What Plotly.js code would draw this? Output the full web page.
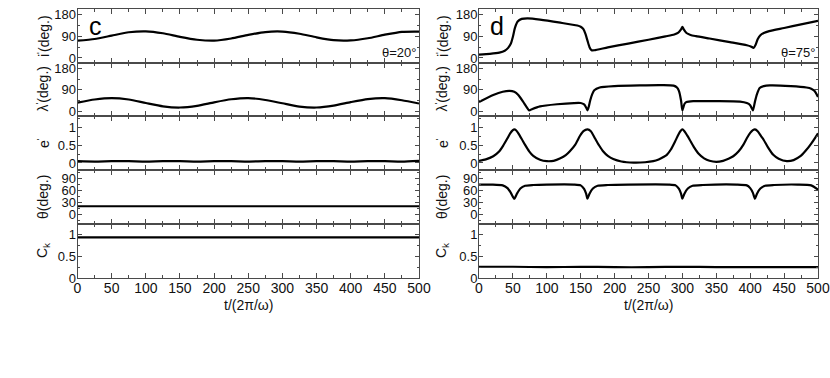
<!DOCTYPE html>
<html>
<head>
<meta charset="utf-8">
<script src="https://cdn.plot.ly/plotly-3.0.1.min.js"></script>
<style>
  html, body { margin: 0; padding: 0; background: #fff; }
  #chart { width: 830px; height: 378px; }
</style>
</head>
<body>
<div id="chart"></div>
<script>
// ---- data ----
const tEvery25 = [0, 25, 50, 75, 100, 125, 150, 175, 200, 225, 250, 275, 300, 325, 350, 375, 400, 425, 450, 475, 500];
const tEvery50 = [0, 50, 100, 150, 200, 250, 300, 350, 400, 450, 500];

// panel c (theta = 20 deg)
const cIncl = [72, 79, 93, 107, 111, 103, 88, 76, 72, 81, 96, 108, 110, 101, 86, 74, 73, 82, 97, 109, 110];
const cNode = [36, 49, 55, 49, 34, 20, 15, 22, 37, 50, 55, 47, 33, 19, 15, 23, 38, 51, 55, 46, 32];
const cEcc = [0.05, 0.04, 0.05, 0.05, 0.04, 0.05, 0.05, 0.04, 0.05, 0.05, 0.04, 0.05, 0.05, 0.04, 0.05, 0.05, 0.04, 0.05, 0.05, 0.04, 0.06];
const cTheta = [20, 20, 20, 20, 20, 20, 20, 20, 20, 20, 20];
const cCk = [0.94, 0.94, 0.94, 0.94, 0.94, 0.94, 0.94, 0.94, 0.94, 0.94, 0.94];

// panel d (theta = 75 deg)
const dInclT = [0, 16, 30, 38, 43, 47, 50, 53, 57, 63, 72, 90, 120, 145, 150, 154, 157, 160, 163, 166, 170, 190, 220, 250, 275, 288, 294, 298, 300, 302, 306, 312, 320, 340, 370, 395, 401, 405, 408, 411, 415, 420, 428, 450, 475, 500];
const dIncl = [14, 17, 22, 30, 42, 60, 88, 125, 152, 163, 165, 160, 147, 135, 130, 120, 100, 72, 45, 32, 32, 44, 60, 76, 90, 98, 106, 119, 130, 119, 104, 96, 91, 81, 66, 53, 48, 42, 55, 78, 95, 104, 112, 125, 140, 155];

const dNodeT = [0, 21, 35, 45, 52, 58, 65, 70, 74, 78, 90, 115, 140, 150, 155, 158, 160, 162, 164, 167, 170, 178, 200, 237, 270, 287, 292, 295, 298, 300, 303, 306, 316, 350, 385, 395, 400, 404, 407, 410, 414, 420, 429, 460, 483, 490, 495, 500];
const dNode = [38, 68, 82, 86, 82, 68, 40, 18, 3, 8, 20, 29, 34, 34, 28, 15, 3, 20, 45, 72, 88, 100, 106, 109, 110, 108, 100, 85, 45, 3, 30, 38, 42, 42, 40, 34, 25, 3, 40, 72, 98, 106, 109, 106, 100, 95, 85, 60];

const dEccT = [0, 10, 21, 30, 36, 42, 46, 50, 52, 55, 58, 63, 68, 74, 80, 90, 100, 110, 120, 128, 134, 142, 149, 154, 160, 165, 171, 177, 183, 190, 198, 210, 228, 245, 257, 265, 272, 277, 283, 289, 294, 297, 300, 303, 307, 311, 317, 324, 332, 340, 350, 360, 368, 375, 383, 390, 395, 400, 404, 407, 411, 416, 420, 426, 434, 442, 454, 464, 474, 482, 490, 496, 500];
const dEcc = [0.06, 0.1, 0.19, 0.33, 0.5, 0.7, 0.84, 0.93, 0.95, 0.92, 0.84, 0.68, 0.51, 0.33, 0.2, 0.09, 0.05, 0.06, 0.13, 0.22, 0.33, 0.52, 0.77, 0.9, 0.95, 0.9, 0.7, 0.5, 0.33, 0.2, 0.11, 0.04, 0.01, 0.02, 0.05, 0.1, 0.17, 0.23, 0.38, 0.6, 0.8, 0.9, 0.95, 0.9, 0.78, 0.65, 0.45, 0.26, 0.13, 0.06, 0.03, 0.06, 0.12, 0.19, 0.33, 0.52, 0.7, 0.85, 0.93, 0.95, 0.9, 0.76, 0.65, 0.45, 0.23, 0.12, 0.05, 0.08, 0.19, 0.35, 0.55, 0.72, 0.84];

const dThetaT = [0, 20, 35, 42, 47, 52, 56, 61, 68, 80, 100, 140, 150, 155, 158, 160, 163, 168, 175, 190, 220, 280, 290, 295, 298, 300, 303, 308, 315, 330, 380, 395, 400, 404, 407, 410, 415, 422, 435, 470, 490, 500];
const dTheta = [75, 75, 73, 66, 54, 39, 52, 65, 72, 74, 75, 75, 73, 64, 52, 39, 52, 65, 72, 74, 75, 75, 73, 64, 52, 39, 52, 65, 72, 74, 75, 73, 66, 54, 39, 52, 65, 72, 74, 75, 73, 62];

const dCk = [0.26, 0.26, 0.25, 0.26, 0.25, 0.25, 0.26, 0.25, 0.25, 0.25, 0.25];

// ---- panel geometry (pixels in an 830x378 canvas) ----
const W = 830, H = 378;
const colPx = [[77.5, 419], [479, 818]];
const rowPx = [9, 63, 116, 170, 224, 278];

const FONT = "Liberation Sans, Arial, Helvetica, sans-serif";
const AXIS_COLOR = "#4a4a4a";
const TICK_FONT = { family: FONT, size: 13, color: "#111" };

const rows = [
  { range: [-21, 204], tickvals: [0, 90, 180], minor: 45, title: "i<sup>'</sup>(deg.)" },
  { range: [-21, 204], tickvals: [0, 90, 180], minor: 45, title: "λ<sup>'</sup>(deg.)" },
  { range: [-0.2, 1.33], tickvals: [0, 0.5, 1], minor: 0.25, title: "e<sup>'</sup>" },
  { range: [-25, 112], tickvals: [0, 30, 60, 90], minor: 15, title: "θ(deg.)" },
  { range: [0, 1.25], tickvals: [0, 0.5, 1], minor: 0.25, title: "C<sub>k</sub>" },
];

const series = [
  [[tEvery25, cIncl], [tEvery25, cNode], [tEvery25, cEcc], [tEvery50, cTheta], [tEvery50, cCk]],
  [[dInclT, dIncl], [dNodeT, dNode], [dEccT, dEcc], [dThetaT, dTheta], [tEvery50, dCk]],
];

const px2x = (p) => p / W;
const px2y = (p) => 1 - p / H;

const traces = [];
const layout = {
  width: W, height: H,
  margin: { l: 0, r: 0, t: 0, b: 0 },
  paper_bgcolor: "#fff",
  plot_bgcolor: "#fff",
  showlegend: false,
  font: { family: FONT, size: 14, color: "#111" },
  annotations: [],
};

for (let c = 0; c < 2; c++) {
  for (let r = 0; r < 5; r++) {
    const n = c * 5 + r + 1;
    const sfx = n === 1 ? "" : String(n);
    const [xs, ys] = series[c][r];

    traces.push({
      x: xs, y: ys,
      xaxis: "x" + sfx, yaxis: "y" + sfx,
      type: "scatter", mode: "lines",
      line: { color: "#000", width: 2.2, shape: "spline", smoothing: 0.6 },
      hoverinfo: "skip",
    });

    const bottom = r === 4;
    layout["xaxis" + sfx] = {
      domain: [px2x(colPx[c][0]), px2x(colPx[c][1])],
      anchor: "y" + sfx,
      range: [0, 500],
      tickmode: "linear", tick0: 0, dtick: 50,
      ticks: "inside", ticklen: 5, tickcolor: AXIS_COLOR, tickwidth: 1,
      minor: { dtick: 25, ticks: "inside", ticklen: 3, tickcolor: AXIS_COLOR },
      showticklabels: bottom,
      ticklabelstandoff: -3,
      tickfont: { ...TICK_FONT, size: 14 },
      showline: true, linecolor: AXIS_COLOR, linewidth: 1, mirror: "ticks",
      showgrid: false, zeroline: false,
    };
    layout["yaxis" + sfx] = {
      domain: [px2y(rowPx[r + 1]), px2y(rowPx[r])],
      anchor: "x" + sfx,
      range: rows[r].range,
      tickmode: "array", tickvals: rows[r].tickvals,
      ticks: "inside", ticklen: 4, tickcolor: AXIS_COLOR, tickwidth: 1,
      minor: { dtick: rows[r].minor, ticks: "inside", ticklen: 2, tickcolor: AXIS_COLOR },
      ticklabelstandoff: -2,
      tickfont: TICK_FONT,
      showline: true, linecolor: AXIS_COLOR, linewidth: 1, mirror: "ticks",
      showgrid: false, zeroline: false,
    };

    // rotated y title, placed like the original
    layout.annotations.push({
      xref: "paper", yref: "paper",
      x: px2x(c === 0 ? 43 : 442),
      y: px2y((rowPx[r] + rowPx[r + 1]) / 2),
      text: rows[r].title, textangle: -90, showarrow: false,
      font: { family: FONT, size: 14, color: "#111" },
      xanchor: "center", yanchor: "middle",
    });
  }

  // x title under each column
  layout.annotations.push({
    xref: "paper", yref: "paper",
    x: px2x((colPx[c][0] + colPx[c][1]) / 2), y: px2y(295),
    text: "t/(2π/ω)", showarrow: false,
    font: { family: FONT, size: 14, color: "#111" },
    xanchor: "center", yanchor: "top",
  });
}

// panel letters and theta labels
const panelLetters = ["c", "d"];
const thetaLabels = ["θ=20°", "θ=75°"];
for (let c = 0; c < 2; c++) {
  layout.annotations.push({
    xref: "paper", yref: "paper",
    x: px2x(colPx[c][0] + 9), y: px2y(10),
    xanchor: "left", yanchor: "top",
    text: panelLetters[c], showarrow: false,
    font: { family: FONT, size: 25, color: "#000" },
  });
  layout.annotations.push({
    xref: "paper", yref: "paper",
    x: px2x(colPx[c][1] - 1), y: px2y(62),
    xanchor: "right", yanchor: "bottom",
    text: thetaLabels[c], showarrow: false,
    font: { family: FONT, size: 13, color: "#111" },
  });
}

Plotly.newPlot("chart", traces, layout, { displayModeBar: false, staticPlot: true });
</script>
</body>
</html>
